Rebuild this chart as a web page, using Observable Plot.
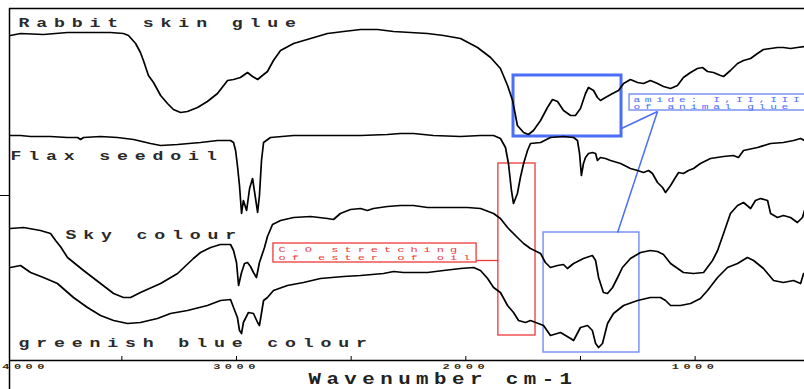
<!DOCTYPE html>
<html>
<head>
<meta charset="utf-8">
<script src="https://cdn.jsdelivr.net/npm/d3@7"></script>
<script src="https://cdn.jsdelivr.net/npm/@observablehq/plot@0.6"></script>
<style>
  html, body { margin: 0; padding: 0; background: #fff; }
  #chart svg { display: block; }
</style>
</head>
<body>
<div id="chart"></div>
<script>
// FTIR spectra: [wavenumber cm-1, transmittance (offset, a.u.)]
const rabbitSkinGlue = [
  [3986,325],[3942,327],[3842,326],[3737,328],[3606,328],[3550,328],[3493,327],[3471,325],
  [3440,317],[3419,308],[3406,300],[3384,285],[3362,278],[3331,265],[3301,257],[3275,251],
  [3244,248],[3214,249],[3170,253],[3127,259],[3083,267],[3039,280],[3013,281],[2983,283],
  [2952,288],[2930,284],[2908,281],[2887,285],[2865,289],[2839,300],[2808,310],[2751,317],
  [2677,322],[2603,327],[2533,329],[2459,331],[2385,331],[2315,329],[2241,328],[2167,327],
  [2097,325],[2023,322],[1949,313],[1892,303],[1849,292],[1818,275],[1796,260],[1775,235],
  [1748,228],[1727,226],[1705,230],[1674,240],[1644,253],[1622,261],[1600,259],[1574,250],
  [1543,245],[1522,245],[1500,252],[1478,267],[1465,273],[1443,270],[1426,263],[1413,260],
  [1391,263],[1360,267],[1334,270],[1312,277],[1282,281],[1251,278],[1225,277],[1195,280],
  [1164,277],[1138,274],[1107,272],[1077,275],[1051,283],[1020,288],[990,292],[968,293],
  [946,289],[920,288],[889,285],[876,284],[846,290],[815,297],[789,300],[758,302],[728,307],
  [702,311],[671,312],[641,313],[615,313],[584,312],[554,313],[523,314]
];
const flaxSeedOil = [
  [3986,225],[3942,225],[3898,224],[3811,224],[3737,223],[3693,223],[3680,221],[3667,223],
  [3593,224],[3519,223],[3449,221],[3375,217],[3331,215],[3257,216],[3157,218],[3083,220],
  [3026,220],[3013,218],[3004,210],[2996,195],[2987,175],[2978,147],[2970,160],[2956,150],
  [2943,172],[2930,182],[2917,162],[2908,148],[2900,165],[2891,200],[2882,218],[2852,223],
  [2751,225],[2603,225],[2459,225],[2342,226],[2285,227],[2228,227],[2185,226],[2141,225],
  [2023,224],[1936,225],[1879,225],[1849,222],[1827,213],[1814,197],[1801,170],[1792,157],
  [1775,167],[1762,183],[1748,197],[1731,210],[1718,217],[1674,218],[1631,223],[1574,224],
  [1530,223],[1513,220],[1504,207],[1496,185],[1487,197],[1478,203],[1465,207],[1448,208],
  [1434,207],[1426,200],[1413,203],[1391,202],[1369,200],[1325,197],[1282,192],[1251,190],
  [1225,188],[1203,190],[1186,187],[1164,178],[1142,173],[1129,168],[1107,175],[1086,183],
  [1072,188],[1051,187],[1029,190],[1007,192],[977,197],[933,202],[876,204],[833,205],
  [811,203],[789,210],[728,213],[671,217],[615,218],[571,220],[540,222],[523,220]
];
const skyColour = [
  [3986,132],[3929,133],[3855,130],[3811,127],[3789,120],[3768,114],[3737,103],[3667,90],
  [3593,77],[3536,67],[3493,63],[3462,63],[3419,68],[3331,77],[3257,87],[3188,102],
  [3157,108],[3113,113],[3070,116],[3026,116],[3013,110],[3000,98],[2991,75],[2978,88],
  [2965,97],[2952,98],[2939,94],[2926,88],[2913,83],[2900,98],[2878,113],[2865,124],
  [2843,136],[2808,140],[2751,143],[2677,144],[2603,142],[2577,141],[2547,147],[2503,151],
  [2459,152],[2429,150],[2403,152],[2342,154],[2285,155],[2228,155],[2167,153],[2080,153],
  [1993,153],[1936,152],[1879,147],[1849,142],[1818,133],[1775,123],[1748,117],[1718,112],
  [1674,107],[1653,98],[1631,93],[1600,95],[1574,96],[1557,92],[1530,97],[1487,102],
  [1448,105],[1434,100],[1421,83],[1400,68],[1382,67],[1360,73],[1338,83],[1317,93],
  [1282,102],[1238,108],[1195,110],[1164,109],[1138,106],[1107,97],[1051,88],[1007,87],
  [963,88],[924,100],[902,110],[876,127],[846,147],[815,155],[789,158],[758,152],[737,160],
  [715,162],[684,160],[671,147],[641,143],[615,145],[584,143],[554,138],[532,143],[523,150]
];
const greenishBlueColour = [
  [3986,93],[3942,95],[3898,88],[3842,83],[3781,77],[3711,63],[3650,53],[3593,45],
  [3536,40],[3475,37],[3419,38],[3345,42],[3288,47],[3214,50],[3127,55],[3070,60],
  [3026,61],[3013,53],[2996,43],[2987,30],[2978,27],[2970,38],[2948,48],[2926,47],
  [2908,38],[2900,35],[2882,60],[2865,63],[2839,70],[2778,75],[2708,78],[2634,82],
  [2533,84],[2459,85],[2359,87],[2315,89],[2272,88],[2167,88],[2097,90],[2023,92],
  [1966,93],[1936,90],[1905,82],[1879,73],[1849,68],[1818,55],[1792,48],[1770,40],
  [1740,38],[1718,40],[1661,35],[1631,25],[1587,28],[1543,22],[1530,20],[1500,33],
  [1469,35],[1448,30],[1434,17],[1421,13],[1404,17],[1382,37],[1356,47],[1312,55],
  [1251,60],[1195,63],[1151,63],[1129,60],[1107,55],[1064,55],[1020,57],[977,62],
  [946,70],[902,83],[859,93],[815,97],[772,103],[745,100],[702,92],[658,80],[615,78],
  [571,80],[540,77],[527,87]
];

const sampleNames = ["Rabbit skin glue", "Flax seedoil", "Sky colour", "greenish blue colour"];
// label anchor positions (wavenumber, transmittance)
const labelWn = [3951, 3986, 3746, 3951];
const labelT  = [338, 205, 126, 18];

const tickLabels = [3000, 2000, 1000];
const edgeTick = [4000];
const minorTicks = [3500, 3000, 2500, 2000, 1500, 1000];
const axisTitle = "Wavenumber cm-1";

// annotations: highlighted regions [wn1, wn2, t1, t2]
const amideBox    = [1792, 1321, 224, 285];
const amideBox2   = [1661, 1243, 8, 128];
const esterBox    = [1858, 1696, 25, 197];
const esterNoteBox = [2839, 1953, 98, 117];
const amideNoteBox = [1286, 400, 250, 266];
const esterNote = "C-O stretching\nof ester of oil";
const amideNote = "amide: I,II,III\nof animal glue";

const series = [rabbitSkinGlue, flaxSeedOil, skyColour, greenishBlueColour];
const data = series.flatMap((s, i) => s.map(([wn, t]) => ({wn, t, sample: sampleNames[i]})));
const labels = sampleNames.map((name, i) => ({name, wn: labelWn[i], t: labelT[i]}));
const toRect = (b) => ({x1: b[0], x2: b[1], y1: b[2], y2: b[3]});

const BLUE = "#4a6ef5", BLUE2 = "#7b93f4", RED = "#ec3a3a";
const MONO = "Liberation Mono, DejaVu Sans Mono, monospace";
const fmt = (d) => String(d);

const chart = Plot.plot({
  width: 804,
  height: 389,
  marginLeft: 9,
  marginRight: 0,
  marginTop: 8,
  marginBottom: 29,
  x: {domain: [3990, 523], axis: null},
  y: {domain: [0, 352], axis: null},
  marks: [
    // frame
    Plot.ruleY([0], {stroke: "#000", strokeWidth: 1.5}),
    Plot.ruleY([352], {stroke: "#000", strokeWidth: 1.5}),
    Plot.ruleX([3990], {y1: 352, y2: -29, stroke: "#000", strokeWidth: 1.5}),
    Plot.ruleY([165], {x1: 4029, x2: 3990, stroke: "#000", strokeWidth: 1}),
    Plot.ruleX(minorTicks, {y1: 0, y2: 4, stroke: "#000", strokeWidth: 1}),
    Plot.axisX({ticks: tickLabels, tickFormat: fmt, tickSize: 0, tickPadding: 3, fontSize: 8, fontWeight: "bold",
      fontFamily: MONO, fill: "#3a2a10", label: null}),
    Plot.axisX({ticks: edgeTick, tickFormat: fmt, tickSize: 0, tickPadding: 3, fontSize: 8, fontWeight: "bold",
      fontFamily: MONO, fill: "#3a2a10", textAnchor: "start", dx: -5, label: null}),
    Plot.text([axisTitle], {frameAnchor: "bottom", dy: 23, dx: 36, fontSize: 16, fontWeight: "bold",
      fontFamily: MONO, fill: "#222"}),
    // annotation boxes
    Plot.rect([amideBox].map(toRect), {x1: "x1", x2: "x2", y1: "y1", y2: "y2", fill: "none", stroke: BLUE, strokeWidth: 3}),
    Plot.rect([amideBox2].map(toRect), {x1: "x1", x2: "x2", y1: "y1", y2: "y2", fill: "none", stroke: BLUE2, strokeWidth: 1.5}),
    Plot.rect([amideNoteBox].map(toRect), {x1: "x1", x2: "x2", y1: "y1", y2: "y2", fill: "white", stroke: BLUE2, strokeWidth: 1.5}),
    Plot.rect([esterBox, esterNoteBox].map(toRect), {x1: "x1", x2: "x2", y1: "y1", y2: "y2", fill: "none", stroke: RED, strokeWidth: 1.3}),
    Plot.link([{a: 1953, b: 100, c: 1858, d: 100}], {x1: "a", y1: "b", x2: "c", y2: "d", stroke: RED, strokeWidth: 1.3}),
    Plot.link([{a: 1164, b: 249, c: 1321, d: 232}, {a: 1164, b: 249, c: 1338, d: 128}],
      {x1: "a", y1: "b", x2: "c", y2: "d", stroke: BLUE, strokeWidth: 1.5}),
    // spectra
    Plot.line(data, {x: "wn", y: "t", z: "sample", stroke: "#000", strokeWidth: 1.7}),
    // sample labels
    Plot.text(labels, {x: "wn", y: "t", text: "name", textAnchor: "start", fontSize: 13, fontWeight: "bold",
      fontFamily: MONO, fill: "#2a2a2a"}),
    Plot.text([esterNote], {x: 2817, y: 107.5, textAnchor: "start", fontSize: 8, lineHeight: 1.0,
      fontFamily: MONO, fill: RED}),
    Plot.text([amideNote], {x: 1269, y: 257.5, textAnchor: "start", fontSize: 7.5, lineHeight: 1.05,
      fontFamily: MONO, fill: BLUE})
  ]
});

document.getElementById("chart").appendChild(chart);

// mimic the wide, spaced typewriter lettering: letter spacing + horizontal stretch about the anchor
const SVGNS = "http://www.w3.org/2000/svg";
function stretch(el, ls, s) {
  el.style.letterSpacing = ls + "px";
  const g = document.createElementNS(SVGNS, "g");
  el.parentNode.insertBefore(g, el);
  g.appendChild(el);
  const b = g.getBBox();
  const anchor = getComputedStyle(el).textAnchor;
  const ax = anchor === "middle" ? b.x + b.width / 2 : anchor === "end" ? b.x + b.width : b.x;
  g.setAttribute("transform", `translate(${ax},0) scale(${s},1) translate(${-ax},0)`);
}
const tickSet = new Set([...tickLabels, ...edgeTick].map(fmt));
Array.from(chart.querySelectorAll("text")).forEach((el) => {
  const t = el.textContent;
  if (sampleNames.includes(t)) stretch(el, 4.9, 1.4);
  else if (tickSet.has(t)) stretch(el, 3, 1.5);
  else if (t === axisTitle) stretch(el, 4.2, 1.3);
  else if (t.includes("stretching")) stretch(el, 4, 1.5);
  else if (t.includes("amide")) stretch(el, 3.1, 1.5);
});
</script>
</body>
</html>
